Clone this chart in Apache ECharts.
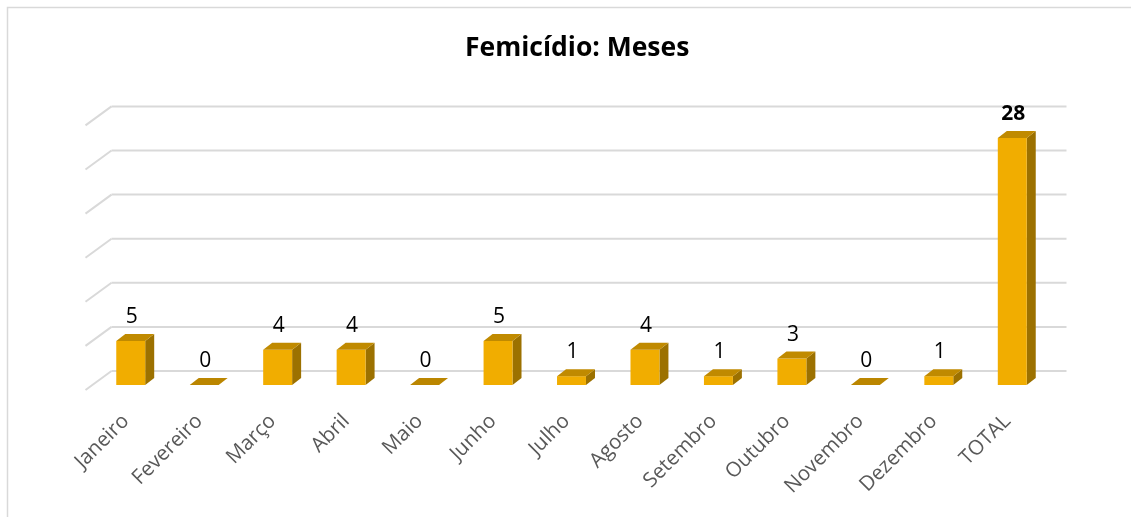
<!DOCTYPE html>
<html>
<head>
<meta charset="utf-8">
<script src="https://cdn.jsdelivr.net/npm/echarts@6/dist/echarts.min.js"></script>
<style>html,body{margin:0;padding:0;background:#fff;}#c{width:1131px;height:517px;}</style>
</head>
<body>
<div id="c"></div>
<script>
const categories = ['Janeiro','Fevereiro','Março','Abril','Maio','Junho','Julho','Agosto','Setembro','Outubro','Novembro','Dezembro','TOTAL'];
const values = [5,0,4,4,0,5,1,4,1,3,0,1,28];
const gridTicks = [0,5,10,15,20,25,30];

const chart = echarts.init(document.getElementById('c'));
const BX = 17.5, BY = -14;      // back wall offset
const DX = 9, DY = -7;          // bar depth offset
const FONT = '"Open Sans", Lato, sans-serif';

chart.setOption({
  animation: false,
  title: {
    text: 'Femicídio: Meses',
    left: 460, top: 30,
    textStyle: { fontFamily: FONT, fontSize: 26.5, fontWeight: 'bold', color: '#000' }
  },
  graphic: [{
    type: 'rect', shape: { x: 7.5, y: 7.5, width: 1200, height: 600 },
    style: { fill: 'none', stroke: '#d9d9d9', lineWidth: 1.5 }, silent: true
  }],
  grid: { left: 94, right: 82, top: 120.4, bottom: 132 },
  xAxis: {
    type: 'category', data: categories,
    axisLine: { show: false }, axisTick: { show: false },
    axisLabel: { rotate: 45, margin: 28, padding: [0, 7, 0, 0], fontFamily: FONT, fontSize: 20.5, color: '#595959', interval: 0 }
  },
  yAxis: {
    type: 'value', min: 0, max: 30, interval: 5,
    axisLabel: { show: false }, axisLine: { show: false }, axisTick: { show: false },
    splitLine: { show: false }
  },
  series: [
    {
      type: 'custom', z: 1, silent: true,
      data: gridTicks.map(v => [0, v]),
      encode: { x: 0, y: 1 },
      renderItem: function (params, api) {
        const cs = params.coordSys;
        const y = api.coord([0, api.value(1)])[1] + BY;
        const x0 = cs.x + BX, x1 = cs.x + cs.width + BX;
        return { type: 'group', children: [
          { type: 'line', shape: { x1: x0, y1: y, x2: x1, y2: y }, style: { stroke: '#d9d9d9', lineWidth: 2 } },
          { type: 'line', shape: { x1: x0, y1: y, x2: x0 - 26, y2: y + 19 }, style: { stroke: '#d9d9d9', lineWidth: 2 } }
        ]};
      }
    },
    {
      type: 'custom', z: 2, silent: true,
      data: values.map((v, i) => [i, v]),
      encode: { x: 0, y: 1 },
      renderItem: function (params, api) {
        const i = api.value(0), v = api.value(1);
        const b = api.coord([i, 0]);
        const t = api.coord([i, v]);
        const hw = api.size([1, 0])[0] * 0.197;
        const xl = b[0] - hw, xr = b[0] + hw, yb = b[1], yt = t[1];
        const children = [];
        if (v > 0) {
          children.push({ type: 'polygon', shape: { points: [[xr, yb], [xr + DX, yb + DY], [xr + DX, yt + DY], [xr, yt]] }, style: { fill: '#9c7100' } });
          children.push({ type: 'rect', shape: { x: xl, y: yt, width: xr - xl, height: yb - yt }, style: { fill: '#f1ad00' } });
          children.push({ type: 'polygon', shape: { points: [[xl, yt], [xr, yt], [xr + DX, yt + DY], [xl + DX, yt + DY]] }, style: { fill: '#c08a00' } });
        } else {
          children.push({ type: 'polygon', shape: { points: [[xl, yb], [xr, yb], [xr + DX, yb + DY], [xl + DX, yb + DY]] }, style: { fill: '#bb8600' } });
        }
        const isTotal = i === values.length - 1;
        children.push({ type: 'text', style: {
          text: String(v), x: b[0] + 1, y: yt + DY - 17,
          align: 'center', verticalAlign: 'middle',
          fontFamily: FONT, fontSize: 21, fontWeight: isTotal ? 'bold' : 'normal', fill: '#000'
        }});
        return { type: 'group', children: children };
      }
    }
  ]
});
</script>
</body>
</html>
